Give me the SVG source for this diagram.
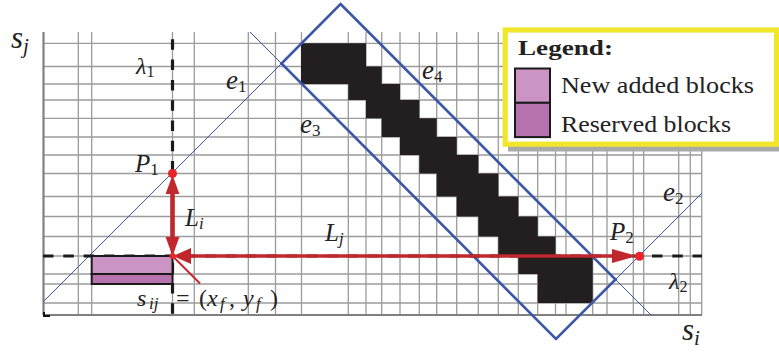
<svg xmlns="http://www.w3.org/2000/svg" width="779" height="352" viewBox="0 0 779 352">
<style>
.grid line{stroke:#9b9b9b;stroke-width:1.3}
.axis{stroke:#808080;stroke-width:2.2}
.blk{fill:#231f20}
.box{fill:none;stroke:#3b57a6;stroke-width:2.6}
.thin{stroke:#3b57a6;stroke-width:1}
.dash{stroke:#1a1a1a;stroke-width:3.2;stroke-dasharray:10.5 9.8}
.red{stroke:#c1272d;fill:none}
.rh{fill:#c1272d}
.dot{fill:#e8242b}
.m{font-family:"Liberation Serif","DejaVu Serif",serif;font-style:italic;fill:#222}
.up{font-style:normal}
.lg{font-family:"Liberation Serif","DejaVu Serif",serif;fill:#222}
.p1{fill:#cc94c4;stroke:#1a1a1a;stroke-width:2}
.p2{fill:#b673ae;stroke:#1a1a1a;stroke-width:2}
</style>
<rect width="779" height="352" fill="#fff"/>
<g id="grid" class="grid">
<line x1="43" y1="43.3" x2="702" y2="43.3"/>
<line x1="43" y1="66.5" x2="702" y2="66.5"/>
<line x1="43" y1="84" x2="702" y2="84"/>
<line x1="43" y1="100" x2="702" y2="100"/>
<line x1="43" y1="118.3" x2="702" y2="118.3"/>
<line x1="43" y1="137" x2="702" y2="137"/>
<line x1="43" y1="155" x2="702" y2="155"/>
<line x1="43" y1="173.5" x2="702" y2="173.5"/>
<line x1="43" y1="196.5" x2="702" y2="196.5"/>
<line x1="43" y1="216.5" x2="702" y2="216.5"/>
<line x1="43" y1="236.5" x2="702" y2="236.5"/>
<line x1="43" y1="256" x2="702" y2="256"/>
<line x1="43" y1="274" x2="702" y2="274"/>
<line x1="43" y1="284" x2="702" y2="284"/>
<line x1="43" y1="303" x2="702" y2="303"/>
<line x1="78.3" y1="32" x2="78.3" y2="315"/>
<line x1="91.7" y1="32" x2="91.7" y2="315"/>
<line x1="172.5" y1="32" x2="172.5" y2="315"/>
<line x1="194.3" y1="32" x2="194.3" y2="315"/>
<line x1="248.3" y1="32" x2="248.3" y2="315"/>
<line x1="275.5" y1="32" x2="275.5" y2="315"/>
<line x1="301.5" y1="32" x2="301.5" y2="315"/>
<line x1="348.3" y1="32" x2="348.3" y2="315"/>
<line x1="366" y1="32" x2="366" y2="315"/>
<line x1="381.7" y1="32" x2="381.7" y2="315"/>
<line x1="400" y1="32" x2="400" y2="315"/>
<line x1="419.3" y1="32" x2="419.3" y2="315"/>
<line x1="436.7" y1="32" x2="436.7" y2="315"/>
<line x1="456.7" y1="32" x2="456.7" y2="315"/>
<line x1="478.3" y1="32" x2="478.3" y2="315"/>
<line x1="498.3" y1="32" x2="498.3" y2="315"/>
<line x1="518.3" y1="32" x2="518.3" y2="315"/>
<line x1="537.7" y1="32" x2="537.7" y2="315"/>
<line x1="555.5" y1="32" x2="555.5" y2="315"/>
<line x1="566" y1="32" x2="566" y2="315"/>
<line x1="592.7" y1="32" x2="592.7" y2="315"/>
<line x1="607" y1="32" x2="607" y2="315"/>
<line x1="633.3" y1="32" x2="633.3" y2="315"/>
<line x1="643.7" y1="32" x2="643.7" y2="315"/>
<line x1="678.7" y1="32" x2="678.7" y2="315"/>
<line x1="690.3" y1="32" x2="690.3" y2="315"/>
<line x1="701.7" y1="32" x2="701.7" y2="315"/>
</g>
<g id="axes">
<line class="axis" x1="43.5" y1="32" x2="43.5" y2="315"/>
<line class="axis" x1="43" y1="315" x2="702" y2="315"/>
<path d="M44 312 V316 H50" fill="none" stroke="#111" stroke-width="2"/>
</g>
<g id="blocks">
<path class="blk" d="M301 43.3 H366 V66.5 H381.7 V84 H400 V100 H419.3 V118.3 H436.7 V137 H456.7 V155 H478.3 V173.5 H498.3 V196.5 H518.3 V216.5 H537.7 V236.5 H555.5 V256 H592.7 V303 H537.7 V274 H518.3 V256 H498.3 V236.5 H478.3 V216.5 H456.7 V196.5 H436.7 V173.5 H419.3 V155 H400 V137 H381.7 V118.3 H366 V100 H348.3 V84 H301 Z"/>
</g>
<g id="boundary">
<polygon class="box" points="340.5,4 615.5,279.5 556,339 281.5,63.5"/>
<line class="thin" x1="43.5" y1="301.5" x2="281.5" y2="63.5"/>
<line class="thin" x1="250" y1="32" x2="281.5" y2="63.5"/>
<line class="thin" x1="615.5" y1="279.5" x2="702" y2="193"/>
<line class="thin" x1="615.5" y1="279.5" x2="651" y2="315"/>
</g>
<g id="lambda-lines">
<line class="dash" x1="172.5" y1="39.3" x2="172.5" y2="315"/>
<line class="dash" x1="43" y1="256" x2="702" y2="256"/>
</g>
<g id="blocks-pink">
<rect class="p1" x="91.7" y="256" width="80.8" height="18"/>
<rect class="p2" x="91.7" y="274" width="80.8" height="10"/>
</g>
<g id="connectors">
<line class="red" x1="172.5" y1="190" x2="172.5" y2="240" stroke-width="4.6"/>
<polygon class="rh" points="172.5,175 165.6,194 179.4,194"/>
<polygon class="rh" points="172.5,256 165.6,237 179.4,237"/>
<line class="red" x1="188" y1="256" x2="616" y2="256" stroke-width="3.6"/>
<polygon class="rh" points="173,256 191,248 191,264"/>
<polygon class="rh" points="637,256 612,249 612,263"/>
<line class="red" x1="172.5" y1="256" x2="200" y2="283.5" stroke-width="2"/>
<circle class="dot" cx="172.5" cy="173.5" r="4.5"/>
<circle class="dot" cx="172.5" cy="256" r="3"/>
<circle class="dot" cx="639.5" cy="256.3" r="4.5"/>
</g>
<g id="legend">
<rect x="508" y="33" width="271" height="118.5" fill="#a9a9a9"/>
<rect x="505.2" y="30" width="271.3" height="114.2" fill="#fff" stroke="#f0e62c" stroke-width="5.2"/>
<text class="lg" x="518" y="55" font-size="22" font-weight="bold" textLength="95" lengthAdjust="spacingAndGlyphs">Legend:</text>
<rect class="p1" x="515" y="68.5" width="35" height="34.3"/>
<rect class="p2" x="515" y="102.8" width="35" height="34.3"/>
<text class="lg" x="561" y="93.3" font-size="23" textLength="193" lengthAdjust="spacingAndGlyphs">New added blocks</text>
<text class="lg" x="561" y="131.7" font-size="23" textLength="170" lengthAdjust="spacingAndGlyphs">Reserved blocks</text>
</g>
<g id="labels">
<text class="m" x="11" y="48" font-size="31">s<tspan font-size="21" dy="5">j</tspan></text>
<text class="m" x="682" y="340" font-size="31">s<tspan font-size="21" dy="5">i</tspan></text>
<text class="m" x="136" y="74" font-size="24">λ<tspan class="up" font-size="16" dy="3">1</tspan></text>
<text class="m" x="669" y="289" font-size="24">λ<tspan class="up" font-size="16" dy="3">2</tspan></text>
<text class="m" x="226" y="89" font-size="27">e<tspan class="up" font-size="17" dy="3">1</tspan></text>
<text class="m" x="663" y="201" font-size="27">e<tspan class="up" font-size="17" dy="3">2</tspan></text>
<text class="m" x="300" y="133" font-size="27">e<tspan class="up" font-size="17" dy="3">3</tspan></text>
<text class="m" x="422" y="79" font-size="27">e<tspan class="up" font-size="17" dy="3">4</tspan></text>
<text class="m" x="135" y="172" font-size="25">P<tspan class="up" font-size="17" dy="3">1</tspan></text>
<text class="m" x="610" y="240" font-size="25">P<tspan class="up" font-size="17" dy="3">2</tspan></text>
<text class="m" x="185" y="226" font-size="25">L<tspan font-size="17" dy="3">i</tspan></text>
<text class="m" x="325" y="241" font-size="25">L<tspan font-size="17" dy="3">j</tspan></text>
<text class="m" y="306" font-size="24"><tspan x="137">s</tspan><tspan x="149" font-size="17" dy="3">ij</tspan><tspan class="up" x="176" dy="-3">=</tspan><tspan class="up" x="199">(</tspan><tspan x="207">x</tspan><tspan x="220" font-size="17" dy="3">f</tspan><tspan class="up" x="229" dy="-3">,</tspan><tspan x="243">y</tspan><tspan x="256" font-size="17" dy="3">f</tspan><tspan class="up" x="270" dy="-3">)</tspan></text>
</g>
</svg>
